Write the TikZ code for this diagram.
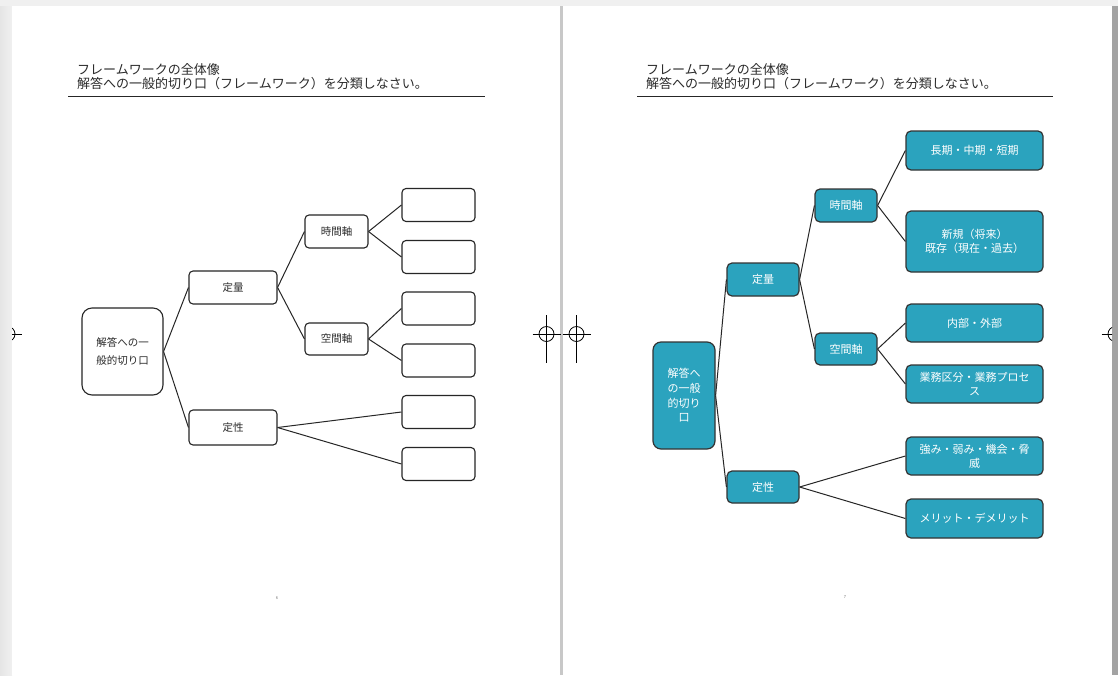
\documentclass[tikz,border=0pt]{standalone}
\usepackage{fontspec}
\setmainfont{Noto Sans CJK JP}
\usepackage{xcolor}
\definecolor{tl}{HTML}{2BA3BE}
\definecolor{pg}{HTML}{F0F0F0}
\definecolor{dv}{HTML}{C8C8C8}
\definecolor{ed}{HTML}{A3A3A3}
\definecolor{tx}{HTML}{2A2A2A}

\tikzset{
	wbox/.style={draw=black!85, line width=1.1pt, rounded corners=4pt, fill=white, text=tx, inner sep=0pt, align=center, font=\fontsize{10.5}{18}\selectfont},
	tbox/.style={draw=black!80, line width=1.2pt, rounded corners=5pt, fill=tl, text=white, inner sep=0pt, align=center, font=\fontsize{11}{14}\selectfont},
	link/.style={line width=1pt, black!85},
	regline/.style={line width=0.8pt, black},
	head/.style={anchor=west, inner sep=0pt, text=tx, font=\fontsize{13}{14}\selectfont},
	pgno/.style={inner sep=0pt, text=black!55, font=\fontsize{4}{4}\selectfont}
}

\begin{document}
\begin{tikzpicture}[x=1pt, y=-1pt]
	\useasboundingbox (0,0) rectangle (1118,675);
	% pages
	\fill [pg] (0,0) rectangle (1118,675);
	\shade [left color=black!10, right color=pg] (0,6) rectangle (12,675);
	\fill [white] (12,6) rectangle (559.5,675);
	\fill [white] (562.5,6) rectangle (1112,675);
	\fill [dv] (559.5,6) rectangle (562.5,675);
	\fill [ed] (1112,6) rectangle (1118,675);
	% register marks
	\foreach \cx in {546.5,576.5} {
		\draw [regline] (\cx,334) circle (7.5);
		\draw [regline] (\cx,315) -- (\cx,363);
		\draw [regline] (\cx-14,334) -- (\cx+14,334);
	}
	\begin{scope}
		\clip (12,6) rectangle (559.5,675);
		\draw [regline] (7.5,334) circle (7.5);
		\draw [regline] (7.5,334) -- (21.5,334);
	\end{scope}
	\begin{scope}
		\clip (562.5,6) rectangle (1112,675);
		\draw [regline] (1115.5,334) circle (7.5);
		\draw [regline] (1101.5,334) -- (1115.5,334);
	\end{scope}

	% left page
	\node [head] (lt1) at (77,70) {フレームワークの全体像};
	\node [head] (lt2) at (77,84) {解答への一般的切り口（フレームワーク）を分類しなさい。};
	\draw [line width=0.9pt, black!85] (68,96) -- (485,96);

	\node [wbox, minimum width=81, minimum height=87, rounded corners=10pt] (lroot) at (122.5,351.5) {解答への一\\般的切り口};
	\node [wbox, minimum width=88, minimum height=33] (lqnt) at (233,287.5) {定量};
	\node [wbox, minimum width=88, minimum height=35] (lqlt) at (233,427.5) {定性};
	\node [wbox, minimum width=63, minimum height=33] (ltime) at (336.5,231.5) {時間軸};
	\node [wbox, minimum width=63, minimum height=32] (lspace) at (336.5,339) {空間軸};
	\node [wbox, minimum width=73, minimum height=33] (lleaf1) at (438.5,205) {};
	\node [wbox, minimum width=73, minimum height=33] (lleaf2) at (438.5,257) {};
	\node [wbox, minimum width=73, minimum height=33] (lleaf3) at (438.5,308.5) {};
	\node [wbox, minimum width=73, minimum height=33] (lleaf4) at (438.5,360.5) {};
	\node [wbox, minimum width=73, minimum height=33] (lleaf5) at (438.5,412) {};
	\node [wbox, minimum width=73, minimum height=33] (lleaf6) at (438.5,464) {};

	\draw [link] (lroot.east) -- (lqnt.west);
	\draw [link] (lroot.east) -- (lqlt.west);
	\draw [link] (lqnt.east) -- (ltime.west);
	\draw [link] (lqnt.east) -- (lspace.west);
	\draw [link] (ltime.east) -- (lleaf1.west);
	\draw [link] (ltime.east) -- (lleaf2.west);
	\draw [link] (lspace.east) -- (lleaf3.west);
	\draw [link] (lspace.east) -- (lleaf4.west);
	\draw [link] (lqlt.east) -- (lleaf5.west);
	\draw [link] (lqlt.east) -- (lleaf6.west);

	\node [pgno] (lpg) at (277,598) {6};

	% right page
	\node [head] (rt1) at (646,70) {フレームワークの全体像};
	\node [head] (rt2) at (646,84) {解答への一般的切り口（フレームワーク）を分類しなさい。};
	\draw [line width=0.9pt, black!85] (637,96) -- (1053,96);

	\node [tbox, minimum width=62, minimum height=107, rounded corners=8pt, font=\fontsize{11}{14.7}\selectfont] (rroot) at (684,395.5) {解答へ\\の一般\\的切り\\口};
	\node [tbox, minimum width=72, minimum height=33] (rqnt) at (763,279.5) {定量};
	\node [tbox, minimum width=72, minimum height=32] (rqlt) at (763,487) {定性};
	\node [tbox, minimum width=62, minimum height=33] (rtime) at (846,205.5) {時間軸};
	\node [tbox, minimum width=62, minimum height=32] (rspace) at (846,349) {空間軸};
	\node [tbox, minimum width=137, minimum height=39] (rleaf1) at (974.5,150.5) {長期・中期・短期};
	\node [tbox, minimum width=137, minimum height=61] (rleaf2) at (974.5,241.5) {新規（将来）\\既存（現在・過去）};
	\node [tbox, minimum width=137, minimum height=38] (rleaf3) at (974.5,323) {内部・外部};
	\node [tbox, minimum width=137, minimum height=38] (rleaf4) at (974.5,384) {業務区分・業務プロセ\\ス};
	\node [tbox, minimum width=137, minimum height=38] (rleaf5) at (974.5,456) {強み・弱み・機会・脅\\威};
	\node [tbox, minimum width=137, minimum height=39] (rleaf6) at (974.5,518.5) {メリット・デメリット};

	\draw [link] (rroot.east) -- (rqnt.west);
	\draw [link] (rroot.east) -- (rqlt.west);
	\draw [link] (rqnt.east) -- (rtime.west);
	\draw [link] (rqnt.east) -- (rspace.west);
	\draw [link] (rtime.east) -- (rleaf1.west);
	\draw [link] (rtime.east) -- (rleaf2.west);
	\draw [link] (rspace.east) -- (rleaf3.west);
	\draw [link] (rspace.east) -- (rleaf4.west);
	\draw [link] (rqlt.east) -- (rleaf5.west);
	\draw [link] (rqlt.east) -- (rleaf6.west);

	\node [pgno] (rpg) at (845,597) {7};
\end{tikzpicture}
\end{document}
